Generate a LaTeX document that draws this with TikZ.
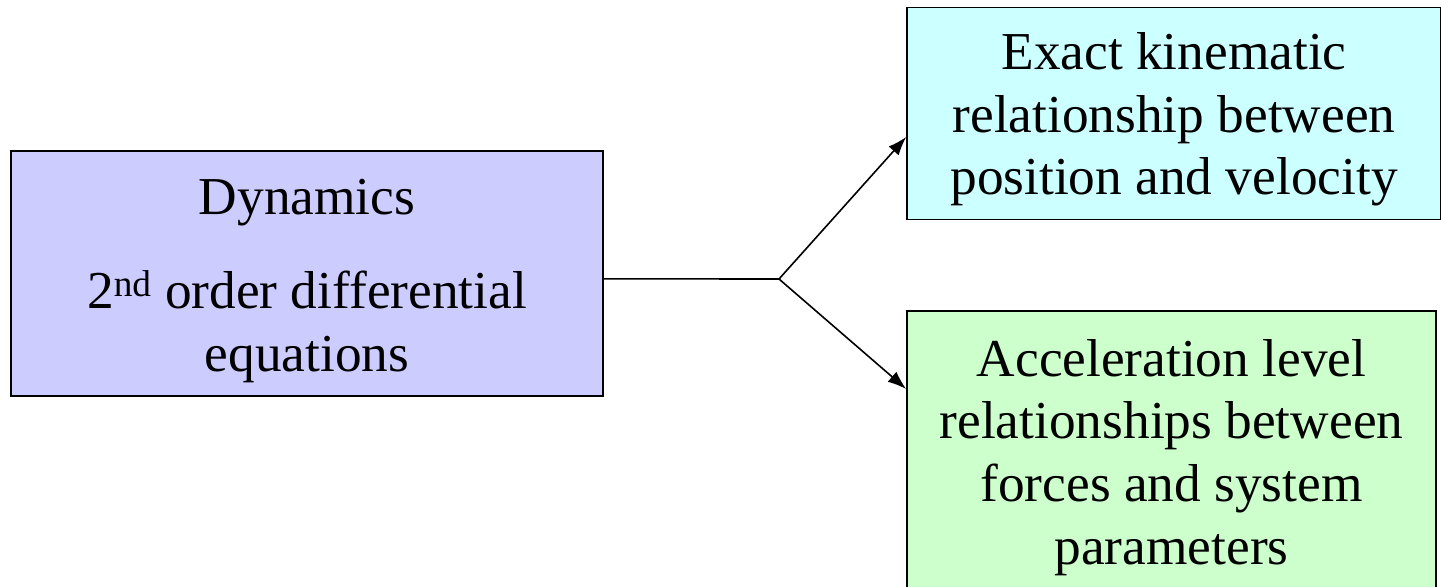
\documentclass[tikz,border=0pt]{standalone}
\usepackage{fontspec}
\setmainfont{Liberation Serif}
\usetikzlibrary{arrows.meta}

\definecolor{dynfill}{RGB}{204,204,255}
\definecolor{kinfill}{RGB}{204,255,255}
\definecolor{accfill}{RGB}{204,255,204}

\tikzset{every picture/.style={line width=0.75pt}}
\tikzset{
  blockbox/.style={draw, line width=1.2pt, inner sep=0pt},
  blocktext/.style={align=center, inner sep=0pt, font=\fontsize{40}{47}\selectfont},
  linkarrow/.style={line width=1.2pt, -{Latex[length=14pt,width=10pt]}}
}

\begin{document}
\begin{tikzpicture}[x=0.75pt,y=0.75pt,yscale=-1,xscale=1]
\useasboundingbox (0,0) rectangle (1441,586);
\clip (0,0) rectangle (1441,586);

%Shape: Rectangle [dynamics]
\node [blockbox, fill=dynfill, minimum width=444pt, minimum height=183.75pt] (dyn) at (307,273.5) {};
%Shape: Rectangle [kinematics]
\node [blockbox, fill=kinfill, minimum width=400.5pt, minimum height=159pt] (kin) at (1174,113.5) {};
%Shape: Rectangle [acceleration]
\node [blockbox, fill=accfill, minimum width=396.75pt, minimum height=217.5pt] (acc) at (1171.5,456) {};

% Text Node
\node [blocktext] (dyntext) at ([yshift=5.5pt]dyn.center)
  {Dynamics\\[24pt] 2\textsuperscript{nd} order differential\\ equations};
% Text Node
\node [blocktext] (kintext) at ([yshift=4.5pt]kin.center)
  {Exact kinematic\\ relationship between\\ position and velocity};
% Text Node
\node [blocktext] (acctext) at ([yshift=1pt]acc.center)
  {Acceleration level\\ relationships between\\ forces and system\\ parameters};

%Straight Lines [split]
\coordinate (split) at (779,279);
\draw [line width=1.2pt] ([yshift=4pt]dyn.east) -- (split);
\draw [linkarrow] (split) -- ([yshift=17.6pt]kin.west);
\draw [linkarrow] (split) -- ([yshift=-50.25pt]acc.west);

\end{tikzpicture}
\end{document}
